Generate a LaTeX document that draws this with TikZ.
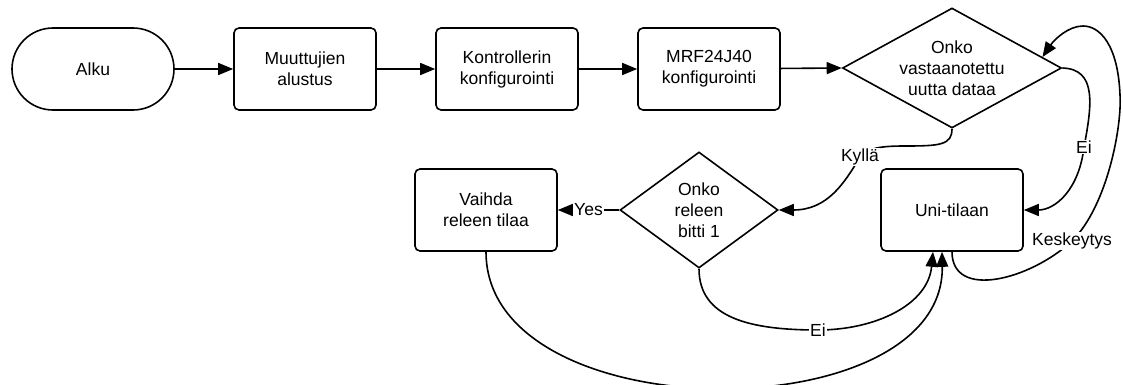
\documentclass[tikz,border=0pt]{standalone}
\usepackage{fontspec}
\setmainfont{Liberation Sans}
\usetikzlibrary{arrows.meta,shapes.geometric,calc}
\begin{document}
\begin{tikzpicture}[x=1pt,y=-1pt,
  line width=1.6pt,
  every node/.style={font=\fontsize{17.5}{21}\selectfont, align=center},
  procbox/.style={draw, rounded corners=5pt, minimum width=142pt, minimum height=82pt, inner sep=0pt},
  startbox/.style={draw, rounded corners=41pt, minimum width=162pt, minimum height=82pt, inner sep=0pt},
  decision/.style={draw, diamond, inner sep=0pt},
  arr/.style={-{Triangle[length=15pt,width=12pt]}},
  lbl/.style={fill=white, inner sep=1pt}
]
\useasboundingbox (0,0) rectangle (1123,385);

% top row
\node[startbox] (alku) at (93,69) {Alku};
\node[procbox] (muut) at (305,69) {Muuttujien\\alustus};
\node[procbox] (kont) at (507,69) {Kontrollerin\\konfigurointi};
\node[procbox] (mrf) at (709,69) {MRF24J40\\konfigurointi};
\node[decision, minimum width=219pt, minimum height=120pt] (d1) at (952,68) {};
\node at (d1) {Onko\\vastaanotettu\\uutta dataa};

% second row
\node[procbox] (vaihda) at (486,210) {Vaihda\\releen tilaa};
\node[decision, minimum width=158pt, minimum height=116pt] (d2) at (699,210) {};
\node at (d2) {Onko\\releen\\bitti 1};
\node[procbox] (uni) at (952,210) {Uni-tilaan};

% straight flow
\draw[arr] (alku) -- (muut);
\draw[arr] (muut) -- (kont);
\draw[arr] (kont) -- (mrf);
\draw[arr] (mrf) -- (d1.west);
\draw[arr] (d2.west) -- node[lbl] {Yes} (vaihda.east);

% Kyllä branch
\coordinate (kyl) at (860,157);
\draw[arr] (d1.south) .. controls (952,145) and (940,146) .. (905,146)
  .. controls (880,146) and (868,148) .. (kyl)
  .. controls (845,182) and (828,210) .. (d2.east);
\node[lbl] at (kyl) {Kyllä};

% Ei branch from the first decision
\coordinate (ei1) at (1084,147);
\draw[arr] (d1.east) .. controls (1097,69) and (1092,105) .. (ei1)
  .. controls (1079,190) and (1055,210) .. (uni.east);
\node[lbl] at (ei1) {Ei};

% interrupt loop back to the first decision
\coordinate (kesk) at (1072,241);
\coordinate (d1tip) at ($(d1.north)!0.82!(d1.east)$);
\draw[arr] (uni.south) .. controls (952,300) and (1030,280) .. (kesk)
  .. controls (1108,205) and (1122,125) .. (1120,95)
  .. controls (1118,45) and (1100,26) .. (1083,26)
  .. controls (1068,26) and (1054,40) .. (d1tip);
\node[lbl] at (kesk) {Keskeytys};

% Ei branch from the second decision
\coordinate (ei2) at (818,330);
\coordinate (unil) at ($(uni.south)+(-19,0)$);
\coordinate (unir) at ($(uni.south)+(-10,0)$);
\draw[arr] (d2.south) .. controls (699,318) and (750,330) .. (ei2)
  .. controls (875,330) and (928,305) .. (unil);
\node[lbl] at (ei2) {Ei};

% return from the relay toggle
\draw[arr] (vaihda.south) .. controls (486,432) and (945,432) .. (unir);
\end{tikzpicture}
\end{document}
